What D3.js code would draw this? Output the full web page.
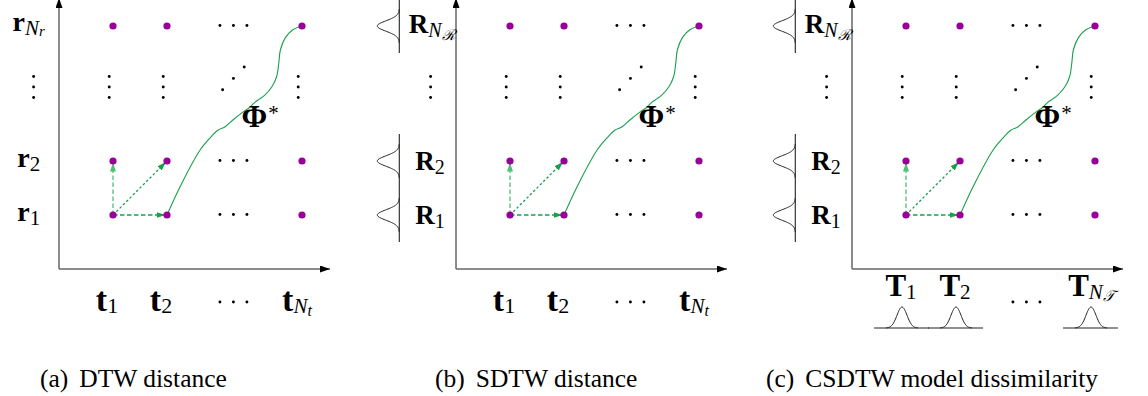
<!DOCTYPE html>
<html>
<head>
<meta charset="utf-8">
<script src="https://cdn.jsdelivr.net/npm/d3@7"></script>
<style>
  html, body { margin: 0; padding: 0; background: #fff; }
  svg { display: block; }
</style>
</head>
<body>
<svg id="fig" width="1148" height="396"></svg>
<script>
// ---- Lattice description (abstract grid units) ----
const frameCols = [1, 2, 4.5];      // t1, t2, t_N
const frameRows = [1, 2, 4.5];      // r1, r2, r_N
const gapCol = 3.23;                // column of the horizontal ellipsis
const gapRow = 3.37;                // row of the vertical ellipsis
const axisMax = 5;

// Optimal warping path Φ* from (t2, r1) to (t_N, r_N)
const warpPath = [
  [2.00, 1.00], [2.24, 1.52], [2.61, 2.20], [2.80, 2.43], [2.94, 2.57],
  [3.07, 2.63], [3.22, 2.76], [3.41, 2.91], [3.54, 3.00], [3.63, 3.09],
  [3.72, 3.15], [3.81, 3.22], [3.94, 3.37], [4.03, 3.56], [4.07, 3.81],
  [4.10, 4.06], [4.19, 4.28], [4.33, 4.43], [4.50, 4.50]
];

// Admissible local steps out of (t1, r1)
const localSteps = [
  { from: [1, 1], to: [1, 2], kind: "vertical" },
  { from: [1, 1], to: [2, 2], kind: "diagonal" },
  { from: [1, 1], to: [2, 1], kind: "horizontal" }
];

// Axis symbols per panel
const rowSymbols  = ["r", "R", "R"];
const colSymbols  = ["t", "t", "T"];
const rowSubs     = ["1", "2"];
const colSubs     = ["1", "2"];
const rowLastSub  = [["N", "r"], ["N", "\u211B"], ["N", "\u211B"]];
const colLastSub  = [["N", "t"], ["N", "t"], ["N", "\uD835\uDCAF"]];
const pathLabel   = ["\u03A6", "*"];
const captionTags = ["(a)", "(b)", "(c)"];
const captionText = ["DTW distance", "SDTW distance", "CSDTW model dissimilarity"];

// ---- Layout ----
const SERIF = "'Liberation Serif', 'Times New Roman', serif";
const unit = 54;
const originY = 269;
const panelOriginX = [59, 456, 852];
const captionX = [40, 435, 766];
const PURPLE = "#990099";
const GREEN = "#17a04c";
const GREEN_LIGHT = "#4fbf78";

const svg = d3.select("#fig");
const defs = svg.append("defs");

function marker(id, color, w, h) {
  defs.append("marker")
    .attr("id", id)
    .attr("viewBox", `0 0 ${w} ${h}`)
    .attr("refX", w).attr("refY", h / 2)
    .attr("markerWidth", w).attr("markerHeight", h)
    .attr("markerUnits", "userSpaceOnUse")
    .attr("orient", "auto")
    .append("path")
    .attr("d", `M0,0L${w},${h / 2}L0,${h}Z`)
    .attr("fill", color);
}
marker("axisHead", "#000", 10, 7);
marker("stepHead", GREEN, 9, 6);
marker("stepHeadLight", GREEN_LIGHT, 9, 6);

// label with bold base and (optionally nested) italic subscript
function mathLabel(g, x, y, base, sub, st) {
  const t = g.append("text")
    .attr("x", x).attr("y", y)
    .attr("text-anchor", "middle")
    .attr("font-family", SERIF)
    .attr("fill", "#000");
  t.append("tspan").attr("font-weight", "bold").attr("font-size", st.base).text(base);
  if (Array.isArray(sub)) {
    t.append("tspan").attr("font-style", "italic").attr("font-size", st.sub)
      .attr("dy", st.subDy).text(sub[0]);
    t.append("tspan").attr("font-style", "italic").attr("font-size", st.sub2)
      .attr("dy", st.sub2Dy).text(sub[1]);
  } else {
    t.append("tspan").attr("font-size", st.sub).attr("dy", st.subDy).text(sub);
  }
  return t;
}

function bellLeft(g, x, yScale, row) {
  // vertical stem with a gaussian bump opening to the left
  const cy = yScale(row);
  g.append("line")
    .attr("x1", x).attr("x2", x)
    .attr("y1", cy - 27).attr("y2", cy + 27)
    .attr("stroke", "#222").attr("stroke-width", 1.1);
  const pts = d3.range(-17, 17.01, 0.5).map(d => [x - 22 * Math.exp(-d * d / (2 * 5.2 * 5.2)), cy + d]);
  g.append("path").attr("d", d3.line()(pts))
    .attr("fill", "none").attr("stroke", "#222").attr("stroke-width", 1);
}

function bellUp(g, cx, y, left, right) {
  g.append("line")
    .attr("x1", left).attr("x2", right)
    .attr("y1", y).attr("y2", y)
    .attr("stroke", "#222").attr("stroke-width", 1.1);
  const pts = d3.range(-16, 16.01, 0.5).map(d => [cx + d, y - 21 * Math.exp(-d * d / (2 * 5 * 5))]);
  g.append("path").attr("d", d3.line()(pts))
    .attr("fill", "none").attr("stroke", "#222").attr("stroke-width", 1);
}

panelOriginX.forEach((ox, p) => {
  const g = svg.append("g");
  const x = d3.scaleLinear().domain([0, axisMax]).range([ox, ox + unit * axisMax]);
  const y = d3.scaleLinear().domain([0, axisMax]).range([originY, originY - unit * axisMax]);

  // axes
  g.append("line")
    .attr("x1", x(0)).attr("y1", y(0)).attr("x2", x(0)).attr("y2", y(axisMax) - 1)
    .attr("stroke", "#666").attr("stroke-width", 1.5).attr("marker-end", "url(#axisHead)");
  g.append("line")
    .attr("x1", x(0)).attr("y1", y(0)).attr("x2", x(axisMax) + 1).attr("y2", y(0))
    .attr("stroke", "#666").attr("stroke-width", 1.5).attr("marker-end", "url(#axisHead)");

  // small ellipsis dots
  const dots = [];
  frameRows.forEach(r => [-0.25, 0, 0.25].forEach(o => dots.push([gapCol + o, r + 0.01])));
  frameCols.forEach(c => [-0.195, 0, 0.195].forEach(o => dots.push([c - 0.07, gapRow + o])));
  [-0.2, 0, 0.2].forEach(o => dots.push([gapCol + o, gapRow + 0.16 + o * 1.05]));
  [-0.195, 0, 0.195].forEach(o => dots.push([-0.47, gapRow + o]));
  g.selectAll("circle.ell").data(dots).join("circle")
    .attr("class", "ell")
    .attr("cx", d => x(d[0])).attr("cy", d => y(d[1]))
    .attr("r", 1.45).attr("fill", "#000");

  // ellipsis under the time axis
  g.selectAll("circle.xell").data([-0.25, 0, 0.25]).join("circle")
    .attr("class", "xell")
    .attr("cx", d => x(gapCol + d)).attr("cy", originY + 33)
    .attr("r", 1.45).attr("fill", "#000");

  // local step arrows
  localSteps.forEach(s => {
    const light = s.kind === "vertical";
    const x1 = x(s.from[0]), y1 = y(s.from[1]);
    const x2 = x(s.to[0]), y2 = y(s.to[1]);
    const len = Math.hypot(x2 - x1, y2 - y1);
    const k = (len - 1.5) / len;
    g.append("line")
      .attr("x1", x1).attr("y1", y1)
      .attr("x2", x1 + (x2 - x1) * k).attr("y2", y1 + (y2 - y1) * k)
      .attr("stroke", light ? GREEN_LIGHT : GREEN)
      .attr("stroke-width", 1.3)
      .attr("stroke-dasharray", s.kind === "diagonal" ? "2.5,2.2" : "4.5,2.5")
      .attr("marker-end", light ? "url(#stepHeadLight)" : "url(#stepHead)");
  });

  // warping path
  g.append("path")
    .attr("d", d3.line().x(d => x(d[0])).y(d => y(d[1])).curve(d3.curveCatmullRom.alpha(0.5))(warpPath))
    .attr("fill", "none").attr("stroke", GREEN).attr("stroke-width", 1.1);

  // lattice points
  const pts = [];
  frameCols.forEach(c => frameRows.forEach(r => pts.push([c, r])));
  g.selectAll("circle.pt").data(pts).join("circle")
    .attr("class", "pt")
    .attr("cx", d => x(d[0])).attr("cy", d => y(d[1]))
    .attr("r", 3.6).attr("fill", PURPLE);

  // Φ*
  const phi = g.append("text")
    .attr("x", x(3.38)).attr("y", y(2.63))
    .attr("font-family", SERIF).attr("fill", "#000");
  phi.append("tspan").attr("font-weight", "bold").attr("font-size", 31).text(pathLabel[0]);
  phi.append("tspan").attr("font-size", 21).attr("dx", 1).attr("dy", -7).text(pathLabel[1]);

  // row labels
  if (p === 0) {
    const st = { base: 28, sub: 21, subDy: 4 };
    rowSubs.forEach((s, i) => mathLabel(g, x(-0.56), y(frameRows[i]) + 6, rowSymbols[p], s, st));
    mathLabel(g, x(-0.56), y(frameRows[2]) + 5, rowSymbols[p], rowLastSub[p],
      { base: 28, sub: 21, subDy: 4, sub2: 15, sub2Dy: 1 });
  } else {
    const st = { base: 27, sub: 20, subDy: 4 };
    rowSubs.forEach((s, i) => mathLabel(g, x(-0.48), y(frameRows[i]) + 9, rowSymbols[p], s, st));
    mathLabel(g, x(-0.45), y(frameRows[2]) + 7, rowSymbols[p], rowLastSub[p],
      { base: 27, sub: 20, subDy: 4, sub2: 15, sub2Dy: 3 });
    frameRows.forEach(r => bellLeft(g, x(-1.05), y, r));
  }

  // column labels
  if (p < 2) {
    const st = { base: 34, sub: 22, subDy: 2 };
    colSubs.forEach((s, i) => mathLabel(g, x(frameCols[i]) - 6, originY + 42, colSymbols[p], s, st));
    mathLabel(g, x(frameCols[2]) - 5, originY + 42, colSymbols[p], colLastSub[p],
      { base: 34, sub: 21, subDy: 2, sub2: 16, sub2Dy: 3 });
  } else {
    const st = { base: 31, sub: 21, subDy: 3 };
    colSubs.forEach((s, i) => mathLabel(g, x(frameCols[i]) - 5, originY + 27, colSymbols[p], s, st));
    mathLabel(g, x(frameCols[2]) - 4, originY + 27, colSymbols[p], colLastSub[p],
      { base: 31, sub: 21, subDy: 3, sub2: 15, sub2Dy: 2 });
    frameCols.forEach(c => bellUp(g, x(c) - 4, originY + 59, x(c) - 32, x(c) + 23));
  }

  // caption
  const cap = g.append("text")
    .attr("x", captionX[p]).attr("y", 387)
    .attr("font-family", SERIF).attr("font-size", 25.5).attr("fill", "#000");
  cap.append("tspan").text(captionTags[p]);
  cap.append("tspan").attr("dx", 11).text(captionText[p]);
});
</script>
</body>
</html>
